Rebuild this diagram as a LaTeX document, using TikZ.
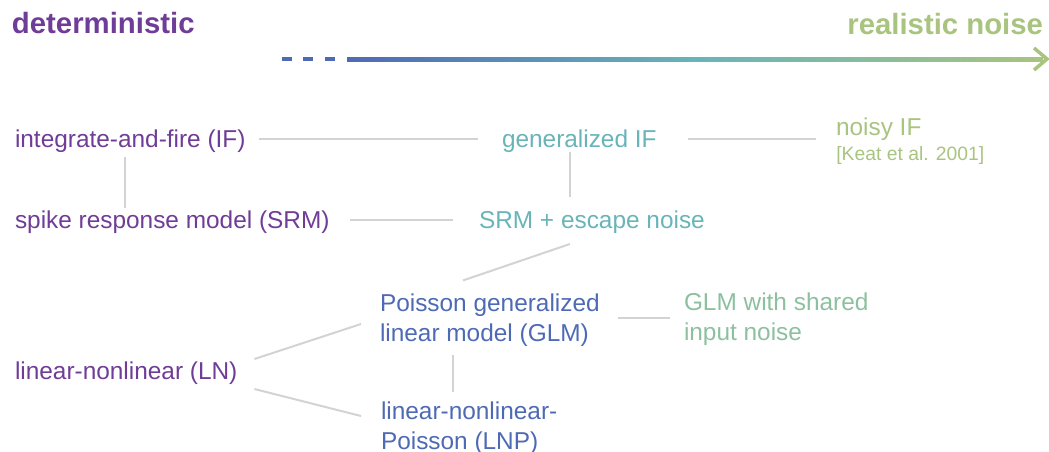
\documentclass[tikz,border=0pt]{standalone}
\usepackage{fontspec}
\setmainfont{Liberation Sans}
\usetikzlibrary{calc}
\definecolor{purpC}{HTML}{6F3C97}
\definecolor{tealC}{HTML}{68B4B8}
\definecolor{blueC}{HTML}{4F6AB5}
\definecolor{greenC}{HTML}{A8C47F}
\definecolor{mintC}{HTML}{8CC09E}
\definecolor{lineC}{HTML}{D3D3D3}
\begin{document}
\begin{tikzpicture}[x=0.75pt,y=-0.75pt,
  lbl/.style={inner sep=0pt,outer sep=0pt,anchor=west,font=\fontsize{18.3pt}{22.5pt}\selectfont,
    text height=0.7em,text depth=0.2em},
  mlbl/.style={inner sep=0pt,outer sep=0pt,anchor=west,align=left,font=\fontsize{18.3pt}{22.8pt}\selectfont},
  title/.style={inner sep=0pt,outer sep=0pt,font=\fontsize{22pt}{26pt}\selectfont\bfseries},
  conn/.style={draw=lineC,line width=1.5pt}]
\useasboundingbox (0,0) rectangle (1049,451);
% titles
\node[title,text=purpC,anchor=base west] (det) at (12,33) {deterministic};
\node[title,text=greenC,anchor=base east] (real) at (1043,34) {realistic noise};
% axis arrow
\coordinate (dashstart) at (282,59);
\coordinate (dashend) at (340,59);
\coordinate (barstart) at (347,59);
\coordinate (barend) at (1043,59);
\draw[blueC,line width=3pt,dash pattern=on 7.5pt off 8.5pt] (dashstart) -- (dashend);
\shade[left color=blueC,right color=greenC,middle color=tealC] ($(barstart)+(0,-2)$) rectangle ($(barend)+(0,2)$);
\draw[greenC,line width=2.6pt] ($(barend)+(-9,-11)$) -- ($(barend)+(4,0)$) -- ($(barend)+(-9,11)$);
% nodes
\node[lbl,text=purpC] (if) at (15,144) {integrate-and-fire (IF)};
\node[lbl,text=purpC] (srm) at (15,225) {spike response model (SRM)};
\node[lbl,text=tealC] (gif) at (502,144) {generalized IF};
\node[lbl,text=tealC] (srmesc) at (479,225) {SRM + escape noise};
\node[lbl,text=greenC] (noisy) at (836,132) {noisy IF};
\node[inner sep=0pt,anchor=west,text=greenC,font=\fontsize{14.5pt}{17pt}\selectfont,text height=0.7em,text depth=0.2em] (keat) at (836,157) {[Keat et al. 2001]};
\node[mlbl,text=blueC] (glm) at (380,320) {Poisson generalized\\linear model (GLM)};
\node[mlbl,text=mintC] (shared) at (684,319) {GLM with shared\\input noise};
\node[lbl,text=purpC] (ln) at (15,376) {linear-nonlinear (LN)};
\node[mlbl,text=blueC] (lnp) at (381,428) {linear-nonlinear-\\Poisson (LNP)};
% connectors
\draw[conn] ($(if.east)+(13,-5)$) -- ($(gif.west)+(-24,-5)$);
\draw[conn] ($(gif.east)+(31,-5)$) -- ($(gif.east -| noisy.west)+(-20,-5)$);
\draw[conn] ($(if.south)+(-5,7)$) -- ($(if.south |- srm.north)+(-5,-11)$);
\draw[conn] ($(gif.south)+(-9.5,2)$) -- ($(gif.south |- srmesc.north)+(-9.5,-22)$);
\draw[conn] ($(srm.east)+(20,-5)$) -- ($(srmesc.west)+(-26,-5)$);
\draw[conn] ($(srmesc.south)+(-22,13)$) -- ($(glm.north west)+(83,-13)$);
\draw[conn] ($(glm.east)+(18,-2)$) -- ($(glm.east -| shared.west)+(-14,-2)$);
\draw[conn] ($(glm.south west)+(73,8)$) -- ($(glm.south west |- lnp.north)+(73,-9)$);
\draw[conn] ($(ln.east)+(17,-17)$) -- ($(glm.west)+(-19,4)$);
\draw[conn] ($(ln.east)+(17,13)$) -- ($(lnp.west)+(-20,-12)$);
\end{tikzpicture}
\end{document}
